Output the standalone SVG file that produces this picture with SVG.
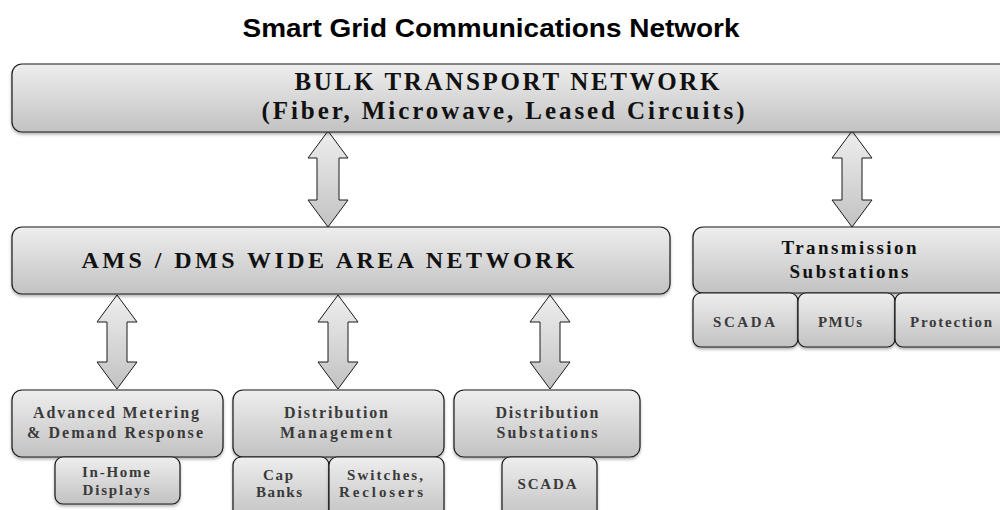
<svg xmlns="http://www.w3.org/2000/svg" width="1000" height="510" viewBox="0 0 1000 510">
<defs>
<linearGradient id="g" x1="0" y1="0" x2="0" y2="1">
<stop offset="0" stop-color="#eeeeee"/>
<stop offset="1" stop-color="#c2c2c2"/>
</linearGradient>
<filter id="sh" x="-5%" y="-10%" width="110%" height="130%">
<feDropShadow dx="0" dy="2" stdDeviation="1.5" flood-color="#000" flood-opacity="0.3"/>
</filter>
</defs>
<style>
.box{fill:url(#g);stroke:#1a1a1a;stroke-width:1.2;filter:url(#sh)}
.arr{fill:url(#g);stroke:#1a1a1a;stroke-width:1}
.big{font-family:"Liberation Serif",serif;font-weight:bold;fill:#111;text-anchor:middle}
.sm{font-family:"Liberation Serif",serif;font-weight:bold;fill:#3a3a3a;text-anchor:middle}
.title{font-family:"Liberation Sans",Arial,sans-serif;font-weight:bold;fill:#000;text-anchor:middle}
</style>
<rect width="1000" height="510" fill="#fff"/>
<text class="title" x="491" y="37" font-size="26" textLength="497" lengthAdjust="spacingAndGlyphs">Smart Grid Communications Network</text>

<g id="connectors">
<path class="arr" d="M328,131 L348,158 L339,158 L339,200 L348,200 L328,227 L308,200 L317,200 L317,158 L308,158 Z"/>
<path class="arr" d="M852,131 L872,158 L862,158 L862,200 L872,200 L852,227 L832,200 L842,200 L842,158 L832,158 Z"/>
<path class="arr" d="M117,295 L137,322 L127,322 L127,362 L137,362 L117,389 L97,362 L107,362 L107,322 L97,322 Z"/>
<path class="arr" d="M338,295 L358,322 L348,322 L348,362 L358,362 L338,389 L318,362 L328,362 L328,322 L318,322 Z"/>
<path class="arr" d="M550,295 L570,322 L560,322 L560,362 L570,362 L550,389 L530,362 L540,362 L540,322 L530,322 Z"/>
</g>

<g id="bulk">
<rect class="box" x="12" y="64" width="1010" height="68" rx="10"/>
<text class="big" x="507" y="90" font-size="25" textLength="425" lengthAdjust="spacing">BULK TRANSPORT NETWORK</text>
<text class="big" x="503" y="119" font-size="25" textLength="483" lengthAdjust="spacing">(Fiber, Microwave, Leased Circuits)</text>
</g>

<g id="ams">
<rect class="box" x="12" y="227" width="658" height="67" rx="10"/>
<text class="big" x="328" y="268" font-size="24" textLength="493" lengthAdjust="spacing">AMS / DMS WIDE AREA NETWORK</text>
</g>

<g id="transmission">
<rect class="box" x="693" y="227" width="330" height="66" rx="10"/>
<text class="big" x="849" y="254" font-size="19" textLength="135" lengthAdjust="spacing">Transmission</text>
<text class="big" x="849" y="278" font-size="19" textLength="119" lengthAdjust="spacing">Substations</text>
</g>
<g id="t-scada">
<rect class="box" x="693" y="293" width="105" height="54" rx="8"/>
<text class="sm" x="744" y="327" font-size="15" textLength="62" lengthAdjust="spacing">SCADA</text>
</g>
<g id="t-pmus">
<rect class="box" x="798" y="293" width="97" height="54" rx="8"/>
<text class="sm" x="840" y="327" font-size="15" textLength="44" lengthAdjust="spacing">PMUs</text>
</g>
<g id="t-protection">
<rect class="box" x="895" y="293" width="130" height="54" rx="8"/>
<text class="sm" x="951" y="327" font-size="15" textLength="82" lengthAdjust="spacing">Protection</text>
</g>

<g id="ami">
<rect class="box" x="12" y="390" width="211" height="67" rx="10"/>
<text class="sm" x="116" y="418" font-size="16" textLength="166" lengthAdjust="spacing">Advanced Metering</text>
<text class="sm" x="115" y="438" font-size="16" textLength="176" lengthAdjust="spacing">&amp; Demand Response</text>
</g>
<g id="inhome">
<rect class="box" x="55" y="457" width="125" height="47" rx="8"/>
<text class="sm" x="116" y="477" font-size="15" textLength="68" lengthAdjust="spacing">In-Home</text>
<text class="sm" x="116" y="495" font-size="15" textLength="67" lengthAdjust="spacing">Displays</text>
</g>

<g id="dms">
<rect class="box" x="233" y="390" width="211" height="67" rx="10"/>
<text class="sm" x="336" y="418" font-size="16" textLength="104" lengthAdjust="spacing">Distribution</text>
<text class="sm" x="336" y="438" font-size="16" textLength="112" lengthAdjust="spacing">Management</text>
</g>
<g id="cap">
<rect class="box" x="233" y="457" width="96" height="62" rx="8"/>
<text class="sm" x="278" y="480" font-size="15" textLength="30" lengthAdjust="spacing">Cap</text>
<text class="sm" x="279" y="497" font-size="15" textLength="46" lengthAdjust="spacing">Banks</text>
</g>
<g id="switches">
<rect class="box" x="329" y="457" width="115" height="62" rx="8"/>
<text class="sm" x="385" y="480" font-size="15" textLength="76" lengthAdjust="spacing">Switches,</text>
<text class="sm" x="381" y="497" font-size="15" textLength="84" lengthAdjust="spacing">Reclosers</text>
</g>

<g id="dsub">
<rect class="box" x="454" y="390" width="186" height="67" rx="10"/>
<text class="sm" x="547" y="418" font-size="16" textLength="103" lengthAdjust="spacing">Distribution</text>
<text class="sm" x="547" y="438" font-size="16" textLength="101" lengthAdjust="spacing">Substations</text>
</g>
<g id="d-scada">
<rect class="box" x="502" y="457" width="95" height="62" rx="8"/>
<text class="sm" x="547" y="489" font-size="15" textLength="59" lengthAdjust="spacing">SCADA</text>
</g>
</svg>
